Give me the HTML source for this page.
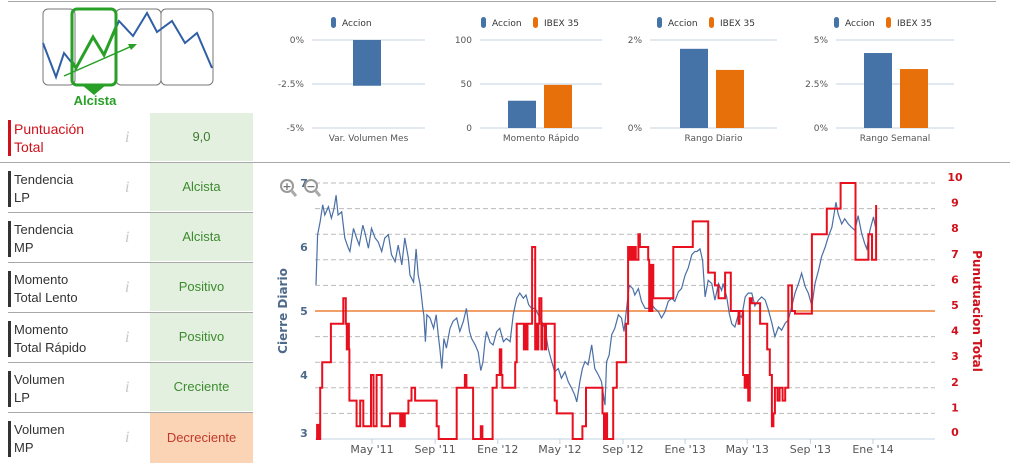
<!DOCTYPE html>
<html><head><meta charset="utf-8">
<style>
html,body{margin:0;padding:0;width:1016px;height:462px;overflow:hidden;background:#fff;font-family:"Liberation Sans",sans-serif;}
.row{position:absolute;left:8px;width:245px;height:48px;border-top:1px solid #a8a8a8;}
.lbl{position:absolute;left:0;top:8px;border-left:3px solid #333;padding-left:3px;font-size:13px;line-height:18px;color:#333;height:36px;}
.info{position:absolute;left:117px;top:16px;font-family:"Liberation Serif",serif;font-style:italic;font-size:16px;color:#c8c8c8;}
.val{position:absolute;left:142px;top:0;width:103px;height:48px;background:#e3f0df;color:#3d8b2f;font-size:13px;line-height:48px;text-align:center;}
</style></head><body>
<div style="position:absolute;left:8px;top:1px;width:988px;height:1px;background:#a8a8a8"></div>
<div style="position:absolute;left:0;top:162px;width:1010px;height:1px;background:#a8a8a8"></div>

<svg style="position:absolute;left:0;top:0" width="260" height="112">
<rect x="43" y="9" width="32" height="76" rx="5" fill="none" stroke="#777" stroke-width="1"/>
<rect x="116" y="9" width="45" height="76" rx="5" fill="none" stroke="#777" stroke-width="1"/>
<rect x="161" y="9" width="52" height="76" rx="5" fill="none" stroke="#777" stroke-width="1"/>
<polyline points="43,43 56,77 64,53 76,68 93,37 104,55 119,21 133,36 147,13 157,32 172,21 185,43 197,33 212,68" fill="none" stroke="#2f5fa5" stroke-width="2"/>
<polyline points="72,62 76,68 93,37 104,55 116,27" fill="none" stroke="#28a028" stroke-width="3"/>
<rect x="72" y="9" width="44" height="76" rx="5" fill="none" stroke="#28a028" stroke-width="3"/>
<polygon points="82,85 106,85 94,95" fill="#28a028"/>
<line x1="64" y1="76" x2="132" y2="46" stroke="#28a028" stroke-width="1.5"/>
<polygon points="137,44 128,44 131,50" fill="#28a028"/>
<text x="95" y="105" text-anchor="middle" font-size="13" font-weight="bold" fill="#28a028" font-family="Liberation Sans, sans-serif">Alcista</text>
</svg>

<div class="row" style="top:113px;border-top:none">
 <div class="lbl" style="border-left-color:#d0111b;color:#d0111b;font-size:14px;top:7px">Puntuación<br>Total</div>
 <div class="info">i</div>
 <div class="val" style="color:#3d7a2f">9,0</div>
</div>
<div class="row" style="top:162px"><div class="lbl">Tendencia<br>LP</div><div class="info">i</div><div class="val">Alcista</div></div>
<div class="row" style="top:212px"><div class="lbl">Tendencia<br>MP</div><div class="info">i</div><div class="val">Alcista</div></div>
<div class="row" style="top:262px"><div class="lbl">Momento<br>Total Lento</div><div class="info">i</div><div class="val">Positivo</div></div>
<div class="row" style="top:312px"><div class="lbl">Momento<br>Total Rápido</div><div class="info">i</div><div class="val">Positivo</div></div>
<div class="row" style="top:362px"><div class="lbl">Volumen<br>LP</div><div class="info">i</div><div class="val">Creciente</div></div>
<div class="row" style="top:412px;height:50px"><div class="lbl">Volumen<br>MP</div><div class="info">i</div><div class="val" style="background:#fbd3b5;color:#c0392b;height:50px;line-height:50px">Decreciente</div></div>

<svg id="charts" style="position:absolute;left:0;top:0" width="1016" height="462" font-family="DejaVu Sans, sans-serif"></svg>

<script>
// ---- mini bar chart data ----
const miniTitles = ["Var. Volumen Mes","Momento Rápido","Rango Diario","Rango Semanal"];
const miniAccion = [-2.6, 31, 1.8, 4.26];
const miniIbex = [null, 49, 1.32, 3.35];
const miniTicks1 = [0, -2.5, -5];
const miniTicks2 = [100, 50, 0];
const miniTicks3 = [2, 0];
const miniTicks4 = [5, 2.5, 0];
const miniTickLabels1 = ["0%","-2.5%","-5%"];
const miniTickLabels2 = ["100","50","0"];
const miniTickLabels3 = ["2%","0%"];
const miniTickLabels4 = ["5%","2.5%","0%"];

// ---- main chart data (days since 2011-01-01) ----
const priceDays = [11,14,19,24,28,35,41,46,50,54,61,67,74,77,84,90,95,102,106,113,119,126,132,139,145,152,158,165,171,178,184,191,194,201,206,210,214,219,221,224,227,233,240,245,249,252,256,260,265,272,278,285,291,298,304,310,314,321,327,332,336,340,343,350,356,363,369,376,382,389,395,402,408,415,420,425,431,438,444,451,457,463,470,476,483,489,496,502,509,515,519,525,530,535,541,548,554,561,567,574,577,582,587,593,600,606,611,616,621,628,632,639,645,652,658,665,671,678,684,691,697,704,710,717,723,730,736,743,749,753,759,764,769,775,782,788,795,801,804,811,816,821,827,834,840,847,853,860,866,873,879,886,892,899,905,912,918,925,931,938,944,951,957,964,970,977,983,990,996,1003,1009,1016,1024,1028,1035,1041,1048,1054,1061,1067,1074,1080,1084,1090,1097,1101];
const priceValues = [5.41,6.19,6.40,6.66,6.50,6.63,6.45,6.60,6.81,6.50,6.55,6.14,5.98,5.93,6.29,6.14,6.03,6.34,6.23,5.98,6.29,6.14,6.08,5.93,6.14,6.19,5.88,5.77,6.03,5.72,6.14,5.82,5.56,5.45,5.97,5.56,5.41,5.04,4.94,4.52,4.94,4.89,4.73,4.94,4.63,4.42,4.10,4.57,4.42,4.73,4.84,4.89,4.68,4.84,5.04,4.68,4.57,4.47,4.36,4.07,4.20,4.51,4.68,4.51,4.47,4.68,4.73,4.52,4.57,4.52,4.94,5.20,5.28,5.20,5.25,5.10,5.04,5.04,4.94,4.83,4.73,4.42,4.21,4.05,4.10,3.95,4.05,3.90,3.79,3.69,3.58,3.90,4.10,4.21,4.16,4.47,4.10,4.00,3.90,3.53,4.21,4.31,4.63,4.73,4.94,4.89,4.68,5.04,5.40,5.35,5.25,5.35,5.15,5.04,5.04,5.10,5.04,4.99,4.89,4.99,5.15,5.20,5.15,5.30,5.35,5.56,5.67,5.88,5.93,5.93,5.97,5.79,5.22,5.48,5.43,5.17,5.43,5.32,5.43,5.22,4.96,4.80,4.75,4.96,4.90,5.22,5.28,5.28,5.08,5.17,5.22,5.17,5.02,4.81,4.60,4.75,4.70,4.81,4.86,5.08,5.28,5.43,5.59,5.38,5.28,5.08,5.43,5.64,5.85,6.00,6.16,6.31,6.70,6.52,6.36,6.44,6.36,6.31,6.26,6.49,6.21,6.05,5.97,6.26,6.47,6.31];
const scoreDays = [11,13,17,19,23,40,64,69,71,73,75,76,90,97,103,118,123,129,139,155,175,178,181,184,191,197,204,246,250,285,301,304,317,332,335,355,363,369,372,374,399,402,416,419,421,423,432,438,440,442,444,446,450,452,457,459,476,480,511,530,537,569,572,575,578,590,597,615,619,622,625,628,631,634,639,642,658,660,662,664,666,668,707,745,775,788,795,808,819,834,836,843,846,849,853,856,860,876,890,895,899,902,905,910,914,920,925,931,938,944,977,1006,1033,1062,1087,1094,1102,1104];
const scoreValues = [0,0.55,0,2,3,4.5,5.5,4.5,3.5,4.5,3.5,1.5,0.5,1.5,0.5,2.5,0.5,2.5,0.5,1,0.5,1,0.5,1,1.5,2,1.5,0.5,0,2,2.5,2,0,0.5,0,2,2.5,3.5,2.5,2,3,4.5,3.5,4.5,3.5,4.5,7.5,3.5,4.5,3.5,4.5,5.5,3.5,4.5,3.5,4.5,1.5,1,0,0.5,2,1,0,1,0,2,3,4.5,7.5,7,7.5,7,7.5,7,8,7.5,7,5,6.8,5,6.8,5.5,7.5,8.5,6.5,6,5.5,6.5,5,4.5,5,2.5,2,2.5,1.5,5.5,5.3,4.5,3.5,2.5,0.5,1,2,1.5,2,1.5,2,6,5,4.9,8,9,10,7,8,7,9.1,9.1];
const xTickDays = [120,243,365,486,609,730,851,974,1096];
const xTickLabels = ["May '11","Sep '11","Ene '12","May '12","Sep '12","Ene '13","May '13","Sep '13","Ene '14"];
const leftTicks = [3,4,5,6,7];
const rightTicks = [0,1,2,3,4,5,6,7,8,9,10];
const plotLineValue = 5;

const svg = document.getElementById('charts');
const NS = 'http://www.w3.org/2000/svg';
function mk(tag, attrs, text){const e=document.createElementNS(NS,tag);for(const k in attrs)e.setAttribute(k,attrs[k]);if(text!==undefined)e.textContent=text;svg.appendChild(e);return e;}

// ---- mini charts ----
const miniCfg = [
 {x0:312,x1:425,min:-5,max:0,ticks:miniTicks1,labels:miniTickLabels1,bx:353,lx:331},
 {x0:480,x1:602,min:0,max:100,ticks:miniTicks2,labels:miniTickLabels2,bx:508,lx:481},
 {x0:650,x1:777,min:0,max:2,ticks:miniTicks3,labels:miniTickLabels3,bx:680,lx:657},
 {x0:836,x1:954,min:0,max:5,ticks:miniTicks4,labels:miniTickLabels4,bx:864,lx:834}
];
const mTop=40, mBot=128;
miniCfg.forEach((c,i)=>{
  const ys = v => mBot - (v-c.min)/(c.max-c.min)*(mBot-mTop);
  c.ticks.forEach((t,j)=>{
    const g=mk('line',{x1:c.x0,x2:c.x1,y1:ys(t),y2:ys(t),stroke:'#c5d3e2','stroke-width':1});
    
    
    const tl=mk('text',{x:c.x0-8,y:ys(t)+3,'text-anchor':'end','font-size':9,fill:'#555'},c.labels[j]);
    
    
  });
  const zero = ys(Math.max(c.min,Math.min(c.max,0)));
  const va = miniAccion[i];
  const b1=mk('rect',{x:c.bx,y:Math.min(zero,ys(va)),width:28,height:Math.abs(ys(va)-zero),fill:'#4572a7'});
  
  
  if(miniIbex[i]!==null){
    const vb=miniIbex[i];
    const b2=mk('rect',{x:c.bx+36,y:Math.min(zero,ys(vb)),width:28,height:Math.abs(ys(vb)-zero),fill:'#e8700a'});
    
    
  }
  const cx=(c.x0+c.x1)/2+(i===0?0:0);
  const ct=mk('text',{x:cx,y:141,'text-anchor':'middle','font-size':9,fill:'#555'},miniTitles[i]);
  
  
  const m1=mk('rect',{x:c.lx,y:17,width:5,height:11,rx:2.5,fill:'#4572a7'});
  
  
  const t1=mk('text',{x:c.lx+11,y:26,'font-size':9,fill:'#333'},'Accion');
  
  
  if(miniIbex[i]!==null){
    const m2=mk('rect',{x:c.lx+52,y:17,width:5,height:11,rx:2.5,fill:'#e8700a'});
    
    
    const t2=mk('text',{x:c.lx+63,y:26,'font-size':9,fill:'#333'},'IBEX 35');
    
    
  }
});

// ---- main chart ----
const PX0=315, PX1=935, PY0=183, PY1=439;
const xs = d => 310.4 + d*0.5133;
const yl = v => PY1 - (v-3)/4*(PY1-PY0);
const yr = v => PY1 - v/10*(PY1-PY0);
rightTicks.forEach(t=>{
  if(t===0) return;
  const g=mk('line',{x1:PX0,x2:PX1,y1:yr(t),y2:yr(t),stroke:'#bbb','stroke-width':1,'stroke-dasharray':'5,3'});
  
  
  const tl=mk('text',{x:955,y:yr(t)-2,'text-anchor':'middle','font-size':11,'font-weight':'bold',fill:'#d0111b'},String(t));
  
  
});
const r0=mk('text',{x:955,y:yr(0)-3,'text-anchor':'middle','font-size':11,'font-weight':'bold',fill:'#d0111b'},'0');


leftTicks.forEach(t=>{
  const tl=mk('text',{x:304,y:yl(t)+4-(t===3?6:0),'text-anchor':'middle','font-size':11,'font-weight':'bold',fill:'#4d6a8a'},String(t));
  
  
});
const ax=mk('line',{x1:PX0,x2:PX1,y1:PY1,y2:PY1,stroke:'#c0d0e0','stroke-width':1});


xTickDays.forEach((d,i)=>{
  const tk=mk('line',{x1:xs(d),x2:xs(d),y1:PY1,y2:PY1+5,stroke:'#c0d0e0'});
  
  
  const tl=mk('text',{x:xs(d),y:453,'text-anchor':'middle','font-size':11,fill:'#555'},xTickLabels[i]);
  
  
});
const pl=mk('line',{x1:PX0,x2:PX1,y1:yl(plotLineValue),y2:yl(plotLineValue),stroke:'#f0a068','stroke-width':2});


// price line
const pp = priceDays.map((d,i)=>xs(d).toFixed(1)+','+yl(priceValues[i]).toFixed(1)).join(' ');
const pline=mk('polyline',{points:pp,fill:'none',stroke:'#4a6fa5','stroke-width':1.2});


// score step line
let sp=[];
scoreDays.forEach((d,i)=>{
  if(i>0) sp.push(xs(d).toFixed(1)+','+yr(scoreValues[i-1]).toFixed(1));
  sp.push(xs(d).toFixed(1)+','+yr(scoreValues[i]).toFixed(1));
});
const sline=mk('polyline',{points:sp.join(' '),fill:'none',stroke:'#e8101e','stroke-width':2});


// axis titles
const lt=mk('text',{x:0,y:0,transform:'translate(287,311) rotate(-90)','text-anchor':'middle','font-size':12,'font-weight':'bold',fill:'#4d6a8a'},'Cierre Diario');


const rt=mk('text',{x:0,y:0,transform:'translate(973,311) rotate(90)','text-anchor':'middle','font-size':12,'font-weight':'bold',fill:'#d0111b'},'Punutuacion Total');


// zoom buttons
[[287,'+'],[311,'−']].forEach(([x,s],i)=>{
  const c=mk('circle',{cx:x,cy:186,r:6,fill:'#fff',stroke:'#999','stroke-width':2});
  
  
  const h=mk('line',{x1:x+4,y1:190,x2:x+9,y2:196,stroke:'#aaa','stroke-width':3});
  
  
  const t=mk('text',{x:x,y:190,'text-anchor':'middle','font-size':11,'font-weight':'bold',fill:'#777'},s);
  
  
});
</script>
</body></html>
